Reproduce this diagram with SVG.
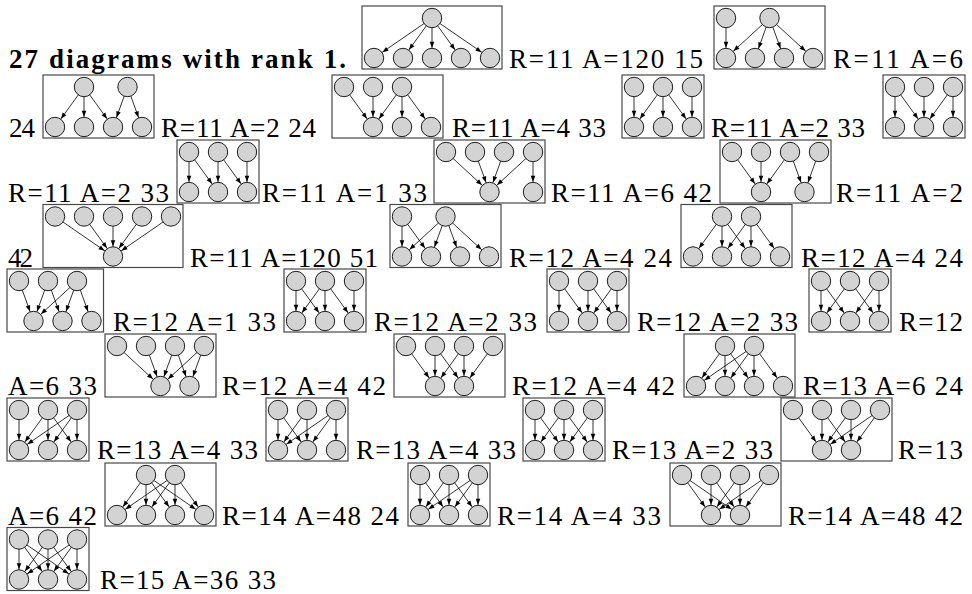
<svg xmlns="http://www.w3.org/2000/svg" width="972" height="594" viewBox="0 0 972 594">
<style>
.b{fill:none;stroke:#484848;stroke-width:1.2}
.e line{stroke:#000;stroke-width:0.8;marker-end:url(#ah)}
.n circle{fill:#d3d3d3;stroke:#1e1e1e;stroke-width:1}
text{font-family:"Liberation Serif","Times New Roman",serif;font-size:27px;fill:#000}
.h{font-weight:bold}
</style>
<defs><marker id="ah" markerUnits="userSpaceOnUse" viewBox="0 0 20 10" markerWidth="20" markerHeight="10" refX="20" refY="5" orient="auto"><path d="M9.8,5 L3.8,2.7 L3.8,7.3 Z" fill="#000"/></marker></defs>
<rect width="972" height="594" fill="#fff"/>

<g id="texts">
<text class="h" x="9" y="68.3" textLength="337" lengthAdjust="spacing">27 diagrams with rank 1.</text>
<text x="509" y="68.3" textLength="194" lengthAdjust="spacing">R=11 A=120 15</text>
<text x="833" y="68.3" textLength="130" lengthAdjust="spacing">R=11 A=6</text>
<text x="9" y="137.3" textLength="26" lengthAdjust="spacing">24</text>
<text x="161" y="137.3" textLength="155" lengthAdjust="spacing">R=11 A=2 24</text>
<text x="452" y="137.3" textLength="154" lengthAdjust="spacing">R=11 A=4 33</text>
<text x="711" y="137.3" textLength="154" lengthAdjust="spacing">R=11 A=2 33</text>
<text x="8" y="202.3" textLength="161" lengthAdjust="spacing">R=11 A=2 33</text>
<text x="262" y="202.3" textLength="165" lengthAdjust="spacing">R=11 A=1 33</text>
<text x="551" y="202.3" textLength="161" lengthAdjust="spacing">R=11 A=6 42</text>
<text x="836" y="202.3" textLength="127" lengthAdjust="spacing">R=11 A=2</text>
<text x="8" y="266.7" textLength="25" lengthAdjust="spacing">42</text>
<text x="190" y="266.7" textLength="188" lengthAdjust="spacing">R=11 A=120 51</text>
<text x="509" y="266.7" textLength="163" lengthAdjust="spacing">R=12 A=4 24</text>
<text x="801" y="266.7" textLength="162" lengthAdjust="spacing">R=12 A=4 24</text>
<text x="113" y="331" textLength="163" lengthAdjust="spacing">R=12 A=1 33</text>
<text x="374" y="331" textLength="163" lengthAdjust="spacing">R=12 A=2 33</text>
<text x="637" y="331" textLength="161" lengthAdjust="spacing">R=12 A=2 33</text>
<text x="899" y="331" textLength="64" lengthAdjust="spacing">R=12</text>
<text x="8" y="395" textLength="89" lengthAdjust="spacing">A=6 33</text>
<text x="222" y="395" textLength="164" lengthAdjust="spacing">R=12 A=4 42</text>
<text x="512" y="395" textLength="163" lengthAdjust="spacing">R=12 A=4 42</text>
<text x="803" y="395" textLength="160" lengthAdjust="spacing">R=13 A=6 24</text>
<text x="97" y="458.7" textLength="161" lengthAdjust="spacing">R=13 A=4 33</text>
<text x="356" y="458.7" textLength="160" lengthAdjust="spacing">R=13 A=4 33</text>
<text x="612" y="458.7" textLength="161" lengthAdjust="spacing">R=13 A=2 33</text>
<text x="898" y="458.7" textLength="65" lengthAdjust="spacing">R=13</text>
<text x="8" y="524.5" textLength="89" lengthAdjust="spacing">A=6 42</text>
<text x="222" y="524.5" textLength="177" lengthAdjust="spacing">R=14 A=48 24</text>
<text x="497" y="524.5" textLength="164" lengthAdjust="spacing">R=14 A=4 33</text>
<text x="788" y="524.5" textLength="175" lengthAdjust="spacing">R=14 A=48 42</text>
<text x="100" y="589.3" textLength="176" lengthAdjust="spacing">R=15 A=36 33</text>
</g>

<g id="dA" transform="translate(362,6)"><rect class="b" width="140" height="63"/>
<g class="e"><line x1="70" y1="12" x2="12" y2="52"/><line x1="70" y1="12" x2="41" y2="52"/><line x1="70" y1="12" x2="70" y2="52"/><line x1="70" y1="12" x2="99" y2="52"/><line x1="70" y1="12" x2="128" y2="52"/></g>
<g class="n"><circle id="dA-t0" cx="70" cy="12" r="9.7"/><circle id="dA-b0" cx="12" cy="52" r="9.7"/><circle id="dA-b1" cx="41" cy="52" r="9.7"/><circle id="dA-b2" cx="70" cy="52" r="9.7"/><circle id="dA-b3" cx="99" cy="52" r="9.7"/><circle id="dA-b4" cx="128" cy="52" r="9.7"/></g></g>

<g id="dB" transform="translate(714,6)"><rect class="b" width="111" height="63"/>
<g class="e"><line x1="12" y1="12" x2="12" y2="52"/><line x1="55.5" y1="12" x2="12" y2="52"/><line x1="55.5" y1="12" x2="41" y2="52"/><line x1="55.5" y1="12" x2="70" y2="52"/><line x1="55.5" y1="12" x2="99" y2="52"/></g>
<g class="n"><circle cx="12" cy="12" r="9.7"/><circle cx="55.5" cy="12" r="9.7"/><circle cx="12" cy="52" r="9.7"/><circle cx="41" cy="52" r="9.7"/><circle cx="70" cy="52" r="9.7"/><circle cx="99" cy="52" r="9.7"/></g></g>

<g id="dC" transform="translate(43,75)"><rect class="b" width="111" height="63"/>
<g class="e"><line x1="41" y1="12" x2="12" y2="52"/><line x1="41" y1="12" x2="41" y2="52"/><line x1="41" y1="12" x2="70" y2="52"/><line x1="84.5" y1="12" x2="70" y2="52"/><line x1="84.5" y1="12" x2="99" y2="52"/></g>
<g class="n"><circle cx="41" cy="12" r="9.7"/><circle cx="84.5" cy="12" r="9.7"/><circle cx="12" cy="52" r="9.7"/><circle cx="41" cy="52" r="9.7"/><circle cx="70" cy="52" r="9.7"/><circle cx="99" cy="52" r="9.7"/></g></g>

<g id="dD" transform="translate(332,75)"><rect class="b" width="111" height="63"/>
<g class="e"><line x1="12" y1="12" x2="41" y2="52"/><line x1="41" y1="12" x2="41" y2="52"/><line x1="70" y1="12" x2="41" y2="52"/><line x1="70" y1="12" x2="70" y2="52"/><line x1="70" y1="12" x2="99" y2="52"/></g>
<g class="n"><circle cx="12" cy="12" r="9.7"/><circle cx="41" cy="12" r="9.7"/><circle cx="70" cy="12" r="9.7"/><circle cx="41" cy="52" r="9.7"/><circle cx="70" cy="52" r="9.7"/><circle cx="99" cy="52" r="9.7"/></g></g>

<g id="dE" transform="translate(622,75)"><rect class="b" width="82" height="63"/>
<g class="e"><line x1="12" y1="12" x2="12" y2="52"/><line x1="41" y1="12" x2="12" y2="52"/><line x1="41" y1="12" x2="41" y2="52"/><line x1="41" y1="12" x2="70" y2="52"/><line x1="70" y1="12" x2="70" y2="52"/></g>
<g class="n"><circle cx="12" cy="12" r="9.7"/><circle cx="41" cy="12" r="9.7"/><circle cx="70" cy="12" r="9.7"/><circle cx="12" cy="52" r="9.7"/><circle cx="41" cy="52" r="9.7"/><circle cx="70" cy="52" r="9.7"/></g></g>

<g id="dF" transform="translate(883,75)"><rect class="b" width="82" height="63"/>
<g class="e"><line x1="12" y1="12" x2="12" y2="52"/><line x1="12" y1="12" x2="41" y2="52"/><line x1="41" y1="12" x2="41" y2="52"/><line x1="70" y1="12" x2="41" y2="52"/><line x1="70" y1="12" x2="70" y2="52"/></g>
<g class="n"><circle cx="12" cy="12" r="9.7"/><circle cx="41" cy="12" r="9.7"/><circle cx="70" cy="12" r="9.7"/><circle cx="12" cy="52" r="9.7"/><circle cx="41" cy="52" r="9.7"/><circle cx="70" cy="52" r="9.7"/></g></g>

<g id="dG" transform="translate(177,140)"><rect class="b" width="82" height="63"/>
<g class="e"><line x1="12" y1="12" x2="12" y2="52"/><line x1="12" y1="12" x2="41" y2="52"/><line x1="41" y1="12" x2="41" y2="52"/><line x1="41" y1="12" x2="70" y2="52"/><line x1="70" y1="12" x2="70" y2="52"/></g>
<g class="n"><circle cx="12" cy="12" r="9.7"/><circle cx="41" cy="12" r="9.7"/><circle cx="70" cy="12" r="9.7"/><circle cx="12" cy="52" r="9.7"/><circle cx="41" cy="52" r="9.7"/><circle cx="70" cy="52" r="9.7"/></g></g>

<g id="dH" transform="translate(434,140)"><rect class="b" width="111" height="63"/>
<g class="e"><line x1="12" y1="12" x2="55.5" y2="52"/><line x1="41" y1="12" x2="55.5" y2="52"/><line x1="70" y1="12" x2="55.5" y2="52"/><line x1="99" y1="12" x2="55.5" y2="52"/><line x1="99" y1="12" x2="99" y2="52"/></g>
<g class="n"><circle cx="12" cy="12" r="9.7"/><circle cx="41" cy="12" r="9.7"/><circle cx="70" cy="12" r="9.7"/><circle cx="99" cy="12" r="9.7"/><circle cx="55.5" cy="52" r="9.7"/><circle cx="99" cy="52" r="9.7"/></g></g>

<g id="dI" transform="translate(720,140)"><rect class="b" width="111" height="63"/>
<g class="e"><line x1="12" y1="12" x2="41" y2="52"/><line x1="41" y1="12" x2="41" y2="52"/><line x1="70" y1="12" x2="41" y2="52"/><line x1="70" y1="12" x2="84.5" y2="52"/><line x1="99" y1="12" x2="84.5" y2="52"/></g>
<g class="n"><circle cx="12" cy="12" r="9.7"/><circle cx="41" cy="12" r="9.7"/><circle cx="70" cy="12" r="9.7"/><circle cx="99" cy="12" r="9.7"/><circle cx="41" cy="52" r="9.7"/><circle cx="84.5" cy="52" r="9.7"/></g></g>

<g id="dJ" transform="translate(43,204.5)"><rect class="b" width="140" height="63"/>
<g class="e"><line x1="12" y1="12" x2="70" y2="52"/><line x1="41" y1="12" x2="70" y2="52"/><line x1="70" y1="12" x2="70" y2="52"/><line x1="99" y1="12" x2="70" y2="52"/><line x1="128" y1="12" x2="70" y2="52"/></g>
<g class="n"><circle cx="12" cy="12" r="9.7"/><circle cx="41" cy="12" r="9.7"/><circle cx="70" cy="12" r="9.7"/><circle cx="99" cy="12" r="9.7"/><circle cx="128" cy="12" r="9.7"/><circle cx="70" cy="52" r="9.7"/></g></g>

<g id="dK" transform="translate(390,204.5)"><rect class="b" width="111" height="63"/>
<g class="e"><line x1="12" y1="12" x2="12" y2="52"/><line x1="12" y1="12" x2="41" y2="52"/><line x1="55.5" y1="12" x2="12" y2="52"/><line x1="55.5" y1="12" x2="41" y2="52"/><line x1="55.5" y1="12" x2="70" y2="52"/><line x1="55.5" y1="12" x2="99" y2="52"/></g>
<g class="n"><circle cx="12" cy="12" r="9.7"/><circle cx="55.5" cy="12" r="9.7"/><circle cx="12" cy="52" r="9.7"/><circle cx="41" cy="52" r="9.7"/><circle cx="70" cy="52" r="9.7"/><circle cx="99" cy="52" r="9.7"/></g></g>

<g id="dL" transform="translate(681,204.5)"><rect class="b" width="111" height="63"/>
<g class="e"><line x1="41" y1="12" x2="12" y2="52"/><line x1="41" y1="12" x2="41" y2="52"/><line x1="41" y1="12" x2="70" y2="52"/><line x1="70" y1="12" x2="41" y2="52"/><line x1="70" y1="12" x2="70" y2="52"/><line x1="70" y1="12" x2="99" y2="52"/></g>
<g class="n"><circle cx="41" cy="12" r="9.7"/><circle cx="70" cy="12" r="9.7"/><circle cx="12" cy="52" r="9.7"/><circle cx="41" cy="52" r="9.7"/><circle cx="70" cy="52" r="9.7"/><circle cx="99" cy="52" r="9.7"/></g></g>

<g id="dM" transform="translate(7,269)"><rect class="b" width="96.5" height="63"/>
<g class="e"><line x1="12" y1="12" x2="26.5" y2="52"/><line x1="41" y1="12" x2="26.5" y2="52"/><line x1="41" y1="12" x2="55.5" y2="52"/><line x1="70" y1="12" x2="26.5" y2="52"/><line x1="70" y1="12" x2="55.5" y2="52"/><line x1="70" y1="12" x2="84.5" y2="52"/></g>
<g class="n"><circle cx="12" cy="12" r="9.7"/><circle cx="41" cy="12" r="9.7"/><circle cx="70" cy="12" r="9.7"/><circle cx="26.5" cy="52" r="9.7"/><circle cx="55.5" cy="52" r="9.7"/><circle cx="84.5" cy="52" r="9.7"/></g></g>

<g id="dN" transform="translate(284,269)"><rect class="b" width="82" height="63"/>
<g class="e"><line x1="12" y1="12" x2="12" y2="52"/><line x1="12" y1="12" x2="41" y2="52"/><line x1="41" y1="12" x2="12" y2="52"/><line x1="41" y1="12" x2="41" y2="52"/><line x1="41" y1="12" x2="70" y2="52"/><line x1="70" y1="12" x2="70" y2="52"/></g>
<g class="n"><circle cx="12" cy="12" r="9.7"/><circle cx="41" cy="12" r="9.7"/><circle cx="70" cy="12" r="9.7"/><circle cx="12" cy="52" r="9.7"/><circle cx="41" cy="52" r="9.7"/><circle cx="70" cy="52" r="9.7"/></g></g>

<g id="dO" transform="translate(547,269)"><rect class="b" width="82" height="63"/>
<g class="e"><line x1="12" y1="12" x2="12" y2="52"/><line x1="12" y1="12" x2="41" y2="52"/><line x1="41" y1="12" x2="41" y2="52"/><line x1="41" y1="12" x2="70" y2="52"/><line x1="70" y1="12" x2="41" y2="52"/><line x1="70" y1="12" x2="70" y2="52"/></g>
<g class="n"><circle cx="12" cy="12" r="9.7"/><circle cx="41" cy="12" r="9.7"/><circle cx="70" cy="12" r="9.7"/><circle cx="12" cy="52" r="9.7"/><circle cx="41" cy="52" r="9.7"/><circle cx="70" cy="52" r="9.7"/></g></g>

<g id="dP" transform="translate(809,269)"><rect class="b" width="82" height="63"/>
<g class="e"><line x1="12" y1="12" x2="12" y2="52"/><line x1="12" y1="12" x2="41" y2="52"/><line x1="41" y1="12" x2="12" y2="52"/><line x1="41" y1="12" x2="70" y2="52"/><line x1="70" y1="12" x2="41" y2="52"/><line x1="70" y1="12" x2="70" y2="52"/></g>
<g class="n"><circle cx="12" cy="12" r="9.7"/><circle cx="41" cy="12" r="9.7"/><circle cx="70" cy="12" r="9.7"/><circle cx="12" cy="52" r="9.7"/><circle cx="41" cy="52" r="9.7"/><circle cx="70" cy="52" r="9.7"/></g></g>

<g id="dQ" transform="translate(105,334)"><rect class="b" width="111" height="63"/>
<g class="e"><line x1="12" y1="12" x2="55.5" y2="52"/><line x1="41" y1="12" x2="55.5" y2="52"/><line x1="70" y1="12" x2="55.5" y2="52"/><line x1="70" y1="12" x2="84.5" y2="52"/><line x1="99" y1="12" x2="55.5" y2="52"/><line x1="99" y1="12" x2="84.5" y2="52"/></g>
<g class="n"><circle cx="12" cy="12" r="9.7"/><circle cx="41" cy="12" r="9.7"/><circle cx="70" cy="12" r="9.7"/><circle cx="99" cy="12" r="9.7"/><circle cx="55.5" cy="52" r="9.7"/><circle cx="84.5" cy="52" r="9.7"/></g></g>

<g id="dR" transform="translate(394,334)"><rect class="b" width="111" height="63"/>
<g class="e"><line x1="12" y1="12" x2="41" y2="52"/><line x1="41" y1="12" x2="41" y2="52"/><line x1="41" y1="12" x2="70" y2="52"/><line x1="70" y1="12" x2="41" y2="52"/><line x1="70" y1="12" x2="70" y2="52"/><line x1="99" y1="12" x2="70" y2="52"/></g>
<g class="n"><circle cx="12" cy="12" r="9.7"/><circle cx="41" cy="12" r="9.7"/><circle cx="70" cy="12" r="9.7"/><circle cx="99" cy="12" r="9.7"/><circle cx="41" cy="52" r="9.7"/><circle cx="70" cy="52" r="9.7"/></g></g>

<g id="dS" transform="translate(684,334)"><rect class="b" width="111" height="63"/>
<g class="e"><line x1="41" y1="12" x2="12" y2="52"/><line x1="41" y1="12" x2="41" y2="52"/><line x1="41" y1="12" x2="70" y2="52"/><line x1="70" y1="12" x2="12" y2="52"/><line x1="70" y1="12" x2="41" y2="52"/><line x1="70" y1="12" x2="70" y2="52"/><line x1="70" y1="12" x2="99" y2="52"/></g>
<g class="n"><circle cx="41" cy="12" r="9.7"/><circle cx="70" cy="12" r="9.7"/><circle cx="12" cy="52" r="9.7"/><circle cx="41" cy="52" r="9.7"/><circle cx="70" cy="52" r="9.7"/><circle cx="99" cy="52" r="9.7"/></g></g>

<g id="dT" transform="translate(7,398)"><rect class="b" width="82" height="63"/>
<g class="e"><line x1="12" y1="12" x2="12" y2="52"/><line x1="41" y1="12" x2="12" y2="52"/><line x1="41" y1="12" x2="41" y2="52"/><line x1="41" y1="12" x2="70" y2="52"/><line x1="70" y1="12" x2="12" y2="52"/><line x1="70" y1="12" x2="41" y2="52"/><line x1="70" y1="12" x2="70" y2="52"/></g>
<g class="n"><circle cx="12" cy="12" r="9.7"/><circle cx="41" cy="12" r="9.7"/><circle cx="70" cy="12" r="9.7"/><circle cx="12" cy="52" r="9.7"/><circle cx="41" cy="52" r="9.7"/><circle cx="70" cy="52" r="9.7"/></g></g>

<g id="dU" transform="translate(266,398)"><rect class="b" width="82" height="63"/>
<g class="e"><line x1="12" y1="12" x2="12" y2="52"/><line x1="12" y1="12" x2="41" y2="52"/><line x1="41" y1="12" x2="12" y2="52"/><line x1="41" y1="12" x2="41" y2="52"/><line x1="70" y1="12" x2="12" y2="52"/><line x1="70" y1="12" x2="41" y2="52"/><line x1="70" y1="12" x2="70" y2="52"/></g>
<g class="n"><circle cx="12" cy="12" r="9.7"/><circle cx="41" cy="12" r="9.7"/><circle cx="70" cy="12" r="9.7"/><circle cx="12" cy="52" r="9.7"/><circle cx="41" cy="52" r="9.7"/><circle cx="70" cy="52" r="9.7"/></g></g>

<g id="dV" transform="translate(523,398)"><rect class="b" width="82" height="63"/>
<g class="e"><line x1="12" y1="12" x2="12" y2="52"/><line x1="12" y1="12" x2="41" y2="52"/><line x1="41" y1="12" x2="12" y2="52"/><line x1="41" y1="12" x2="41" y2="52"/><line x1="41" y1="12" x2="70" y2="52"/><line x1="70" y1="12" x2="41" y2="52"/><line x1="70" y1="12" x2="70" y2="52"/></g>
<g class="n"><circle cx="12" cy="12" r="9.7"/><circle cx="41" cy="12" r="9.7"/><circle cx="70" cy="12" r="9.7"/><circle cx="12" cy="52" r="9.7"/><circle cx="41" cy="52" r="9.7"/><circle cx="70" cy="52" r="9.7"/></g></g>

<g id="dW" transform="translate(781,398)"><rect class="b" width="111" height="63"/>
<g class="e"><line x1="12" y1="12" x2="41" y2="52"/><line x1="41" y1="12" x2="41" y2="52"/><line x1="41" y1="12" x2="70" y2="52"/><line x1="70" y1="12" x2="41" y2="52"/><line x1="70" y1="12" x2="70" y2="52"/><line x1="99" y1="12" x2="41" y2="52"/><line x1="99" y1="12" x2="70" y2="52"/></g>
<g class="n"><circle cx="12" cy="12" r="9.7"/><circle cx="41" cy="12" r="9.7"/><circle cx="70" cy="12" r="9.7"/><circle cx="99" cy="12" r="9.7"/><circle cx="41" cy="52" r="9.7"/><circle cx="70" cy="52" r="9.7"/></g></g>

<g id="dX" transform="translate(105,463)"><rect class="b" width="111" height="63"/>
<g class="e"><line x1="41" y1="12" x2="12" y2="52"/><line x1="41" y1="12" x2="41" y2="52"/><line x1="41" y1="12" x2="70" y2="52"/><line x1="41" y1="12" x2="99" y2="52"/><line x1="70" y1="12" x2="12" y2="52"/><line x1="70" y1="12" x2="41" y2="52"/><line x1="70" y1="12" x2="70" y2="52"/><line x1="70" y1="12" x2="99" y2="52"/></g>
<g class="n"><circle cx="41" cy="12" r="9.7"/><circle cx="70" cy="12" r="9.7"/><circle cx="12" cy="52" r="9.7"/><circle cx="41" cy="52" r="9.7"/><circle cx="70" cy="52" r="9.7"/><circle cx="99" cy="52" r="9.7"/></g></g>

<g id="dY" transform="translate(408,463)"><rect class="b" width="82" height="63"/>
<g class="e"><line x1="12" y1="12" x2="12" y2="52"/><line x1="12" y1="12" x2="41" y2="52"/><line x1="41" y1="12" x2="12" y2="52"/><line x1="41" y1="12" x2="41" y2="52"/><line x1="41" y1="12" x2="70" y2="52"/><line x1="70" y1="12" x2="12" y2="52"/><line x1="70" y1="12" x2="41" y2="52"/><line x1="70" y1="12" x2="70" y2="52"/></g>
<g class="n"><circle cx="12" cy="12" r="9.7"/><circle cx="41" cy="12" r="9.7"/><circle cx="70" cy="12" r="9.7"/><circle cx="12" cy="52" r="9.7"/><circle cx="41" cy="52" r="9.7"/><circle cx="70" cy="52" r="9.7"/></g></g>

<g id="dZ" transform="translate(670,463)"><rect class="b" width="111" height="63"/>
<g class="e"><line x1="12" y1="12" x2="41" y2="52"/><line x1="12" y1="12" x2="70" y2="52"/><line x1="41" y1="12" x2="41" y2="52"/><line x1="41" y1="12" x2="70" y2="52"/><line x1="70" y1="12" x2="41" y2="52"/><line x1="70" y1="12" x2="70" y2="52"/><line x1="99" y1="12" x2="41" y2="52"/><line x1="99" y1="12" x2="70" y2="52"/></g>
<g class="n"><circle cx="12" cy="12" r="9.7"/><circle cx="41" cy="12" r="9.7"/><circle cx="70" cy="12" r="9.7"/><circle cx="99" cy="12" r="9.7"/><circle cx="41" cy="52" r="9.7"/><circle cx="70" cy="52" r="9.7"/></g></g>

<g id="dAA" transform="translate(7,527.5)"><rect class="b" width="82" height="63"/>
<g class="e"><line x1="12" y1="12" x2="12" y2="52"/><line x1="12" y1="12" x2="41" y2="52"/><line x1="12" y1="12" x2="70" y2="52"/><line x1="41" y1="12" x2="12" y2="52"/><line x1="41" y1="12" x2="41" y2="52"/><line x1="41" y1="12" x2="70" y2="52"/><line x1="70" y1="12" x2="12" y2="52"/><line x1="70" y1="12" x2="41" y2="52"/><line x1="70" y1="12" x2="70" y2="52"/></g>
<g class="n"><circle cx="12" cy="12" r="9.7"/><circle cx="41" cy="12" r="9.7"/><circle cx="70" cy="12" r="9.7"/><circle cx="12" cy="52" r="9.7"/><circle cx="41" cy="52" r="9.7"/><circle cx="70" cy="52" r="9.7"/></g></g>
</svg>
